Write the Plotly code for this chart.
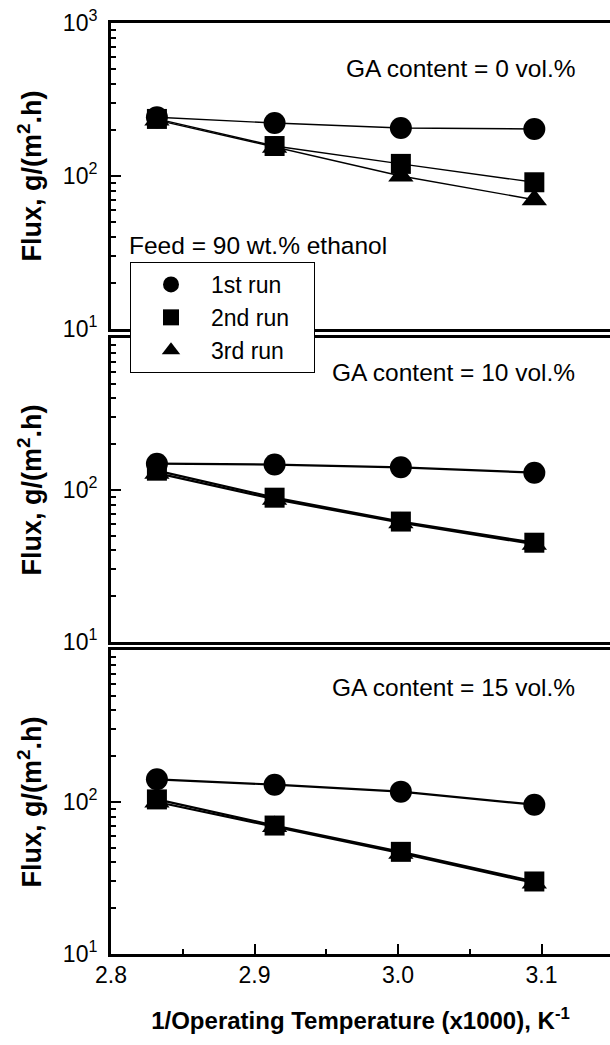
import plotly.graph_objects as go

# ---------------- data ----------------
inv_temp = [2.832, 2.914, 3.002, 3.095]          # 1/T (x1000), K^-1
run_names = ["1st run", "2nd run", "3rd run"]
run_symbols = ["circle", "square", "triangle-up"]
run_sizes = [22, 20, 22]

ga0_run1 = [242, 222, 206, 203]
ga0_run2 = [236, 157, 120, 91]
ga0_run3 = [232, 154, 100, 70]

ga10_run1 = [149, 147, 141, 130]
ga10_run2 = [134, 89, 62, 45]
ga10_run3 = [129, 87, 61, 44]

ga15_run1 = [141, 130, 117, 96]
ga15_run2 = [104, 70, 47, 30]
ga15_run3 = [100, 69, 46, 29.3]

panel_labels = ["GA content = 0 vol.%", "GA content = 10 vol.%", "GA content = 15 vol.%"]
panel_series = [
    [ga0_run1, ga0_run2, ga0_run3],
    [ga10_run1, ga10_run2, ga10_run3],
    [ga15_run1, ga15_run2, ga15_run3],
]
x_ticks = [2.8, 2.9, 3.0, 3.1]
x_minor = [2.85, 2.95, 3.05, 3.15]
y_minor = [m * 10 ** e for e in (1, 2) for m in range(2, 10)]
y_ticks_top = [10, 100, 1000]
y_ticks_lower = [10, 100]

# ---------------- layout helpers ----------------
W, H = 610, 1045
FONT = "Liberation Sans, Arial, Helvetica, sans-serif"

def py(pix):
    return (H - pix) / H

# pixel extents (top, bottom) of each panel, top to bottom
panel_pix = [(23, 329), (338, 642), (650, 954)]
axis_ids = ["3", "2", ""]     # top panel uses x3/y3, middle x2/y2, bottom x/y
line_widths = [1.4, 2.2, 2.2]

fig = go.Figure()

for p, (series, aid) in enumerate(zip(panel_series, axis_ids)):
    xa = "x" + aid
    ya = "y" + aid
    for r, vals in enumerate(series):
        fig.add_trace(go.Scatter(
            x=inv_temp, y=vals, mode="lines", xaxis=xa, yaxis=ya,
            line=dict(color="black", width=line_widths[p]),
            showlegend=False, hoverinfo="skip"))
    for r, vals in enumerate(series):
        fig.add_trace(go.Scatter(
            x=inv_temp, y=vals, mode="markers", xaxis=xa, yaxis=ya,
            name=run_names[r] + "\u00a0\u00a0\u00a0",
            marker=dict(symbol=run_symbols[r], size=run_sizes[r], color="black",
                        line=dict(width=0)),
            showlegend=(p == 0)))

x_dom = [111 / W, 1.0]
x_range = [2.8, 2.8 + (W - 111) / 1435.0]

def sup_labels(vals):
    return ["10<sup>%d</sup>" % len(str(int(v))[1:]) for v in vals]

common_x = dict(range=x_range, domain=x_dom, showline=True, linewidth=3,
                linecolor="black", mirror=True, showgrid=False, zeroline=False,
                automargin=False)

layout = dict(
    template="none",
    width=W, height=H, margin=dict(l=0, r=0, t=0, b=0, pad=0),
    paper_bgcolor="white", plot_bgcolor="white",
    font=dict(family=FONT, color="black", size=23),
    showlegend=True,
    legend=dict(x=130 / W, y=py(262), xanchor="left", yanchor="top",
                bgcolor="white", bordercolor="black", borderwidth=1,
                font=dict(size=23, color="black", family=FONT),
                itemwidth=70, tracegroupgap=0, itemsizing="trace"),
)

for p, aid in enumerate(axis_ids):
    top, bot = panel_pix[p]
    xk = "xaxis" + aid
    yk = "yaxis" + aid
    xd = dict(common_x)
    yt = y_ticks_top if p == 0 else y_ticks_lower
    yd = dict(type="log", range=[1, 3], showline=True, linewidth=3,
              linecolor="black", mirror=True, showgrid=False, zeroline=False,
              automargin=False,
              ticks="inside", ticklen=10, tickwidth=2, tickcolor="black",
              tickvals=yt, ticktext=sup_labels(yt),
              tickfont=dict(size=23, color="black", family=FONT),
              ticklabelstandoff=6,
              minor=dict(ticks="inside", ticklen=5, tickwidth=2, tickcolor="black",
                         tickvals=y_minor, showgrid=False),
              title=dict(text="<b>Flux, g/(m<sup>2</sup>.h)</b>", standoff=14,
                         font=dict(size=27, color="black", family=FONT)))
    yd["domain"] = [py(bot), py(top)]
    yd["anchor"] = "x" + aid
    xd["anchor"] = "y" + aid
    if aid == "":
        xd.update(ticks="inside", ticklen=10, tickwidth=2, tickcolor="black",
                  tickvals=x_ticks, ticktext=[f"{v:.1f}" for v in x_ticks],
                  tickfont=dict(size=23, color="black", family=FONT),
                  ticklabelstandoff=-2,
                  minor=dict(ticks="inside", ticklen=5, tickwidth=2,
                             tickcolor="black", tickvals=x_minor),
                  title=dict(text="<b>1/Operating Temperature (x1000), K<sup>-1</sup></b>",
                             standoff=26, font=dict(size=24, color="black", family=FONT)))
    else:
        xd.update(showticklabels=False, ticks="", matches="x")
    layout[xk] = xd
    layout[yk] = yd

annos = []
label_y = [68, 372, 688]
for p in range(3):
    annos.append(dict(text=panel_labels[p], xref="paper", yref="paper",
                      x=577 / W, y=py(label_y[p]), xanchor="right", yanchor="middle",
                      showarrow=False, font=dict(size=24.5, color="black", family=FONT)))
annos.append(dict(text="Feed = 90 wt.% ethanol", xref="paper", yref="paper",
                  x=127 / W, y=py(245), xanchor="left", yanchor="middle",
                  showarrow=False, font=dict(size=24.5, color="black", family=FONT)))
layout["annotations"] = annos

fig.update_layout(**layout)
fig.write_html("out.html")
